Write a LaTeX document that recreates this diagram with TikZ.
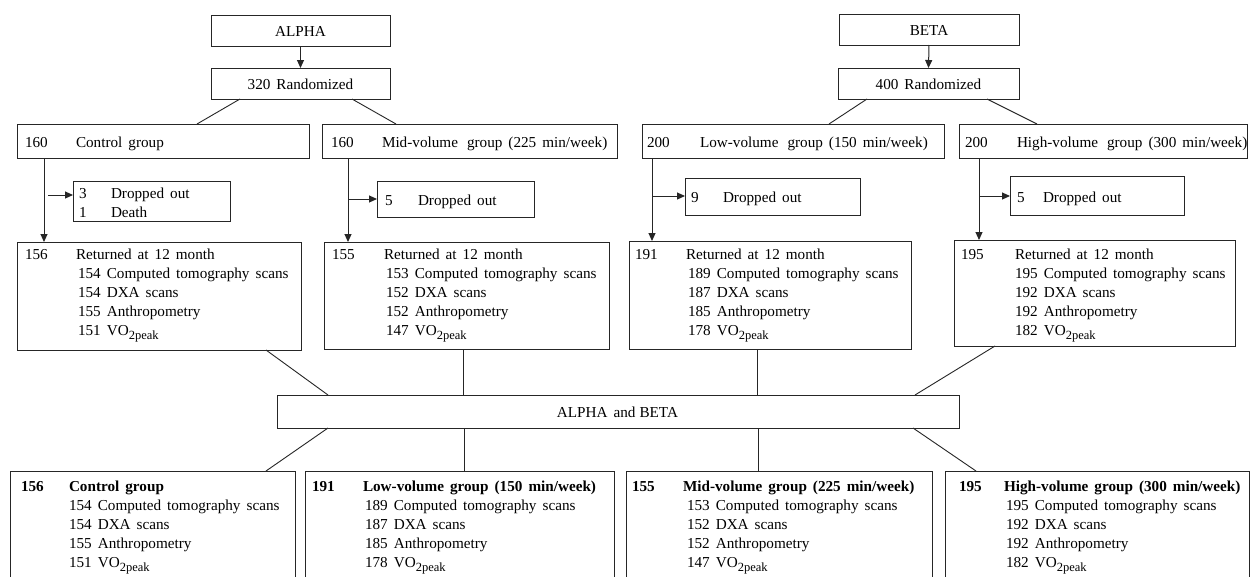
\documentclass[tikz,border=0pt]{standalone}
\usepackage{fontspec}
\setmainfont{Liberation Serif}
\usetikzlibrary{arrows.meta}
\newcommand\vopk{VO\raisebox{-4pt}{\fontsize{12.5}{12.5}\selectfont 2peak}}
\newcommand\myfnt{\fontsize{15.2}{19.2}\selectfont\spaceskip=6pt plus 1pt minus 1pt\relax}
\begin{document}
\begin{tikzpicture}[x=1pt,y=-1pt,
  font=\myfnt,
  box/.style={draw=black!85, line width=1pt, inner sep=0pt, outer sep=0pt, anchor=north west},
  txt/.style={inner sep=0pt, outer sep=0pt, anchor=base west},
  ctr/.style={inner sep=0pt, outer sep=0pt, anchor=base},
  arr/.style={draw=black!85, line width=1pt, -{Triangle[length=8pt,width=7pt]}},
  ln/.style={draw=black!85, line width=0.9pt}]
\fill[white] (0,0) rectangle (1250,576);
\useasboundingbox (0,0) rectangle (1250,576);
\clip (0,0) rectangle (1250,576);
% ---------- boxes ----------
\node[box, minimum width=179pt, minimum height=31pt] (alpha) at (211,15) {};
\node[box, minimum width=179pt, minimum height=31pt] (r1) at (211,68) {};
\node[box, minimum width=180pt, minimum height=31pt] (beta) at (839,14) {};
\node[box, minimum width=181pt, minimum height=31pt] (r2) at (838,68) {};
\node[box, minimum width=292pt, minimum height=34pt] (cg) at (17,124) {};
\node[box, minimum width=295pt, minimum height=34pt] (mg) at (322,124) {};
\node[box, minimum width=302pt, minimum height=34pt] (lg) at (642,124) {};
\node[box, minimum width=288pt, minimum height=34pt] (hg) at (959,124) {};
\node[box, minimum width=157pt, minimum height=40pt] (cd) at (73,181) {};
\node[box, minimum width=157pt, minimum height=36pt] (md) at (377,181) {};
\node[box, minimum width=175pt, minimum height=37pt] (ld) at (685,178) {};
\node[box, minimum width=174pt, minimum height=39pt] (hd) at (1010,176) {};
\node[box, minimum width=284pt, minimum height=108pt] (cr) at (17,242) {};
\node[box, minimum width=285pt, minimum height=107pt] (mr) at (324,242) {};
\node[box, minimum width=282pt, minimum height=108pt] (lr) at (629,241) {};
\node[box, minimum width=281pt, minimum height=106pt] (hr) at (954,240) {};
\node[box, minimum width=682pt, minimum height=33pt] (ab) at (277,395) {};
\node[box, minimum width=285pt, minimum height=140pt] (b1) at (10,471) {};
\node[box, minimum width=309pt, minimum height=140pt] (b2) at (305,471) {};
\node[box, minimum width=306pt, minimum height=140pt] (b3) at (626,471) {};
\node[box, minimum width=304pt, minimum height=140pt] (b4) at (945,471) {};
% ---------- texts ----------
\node[ctr] (alphat) at (300.5,36) {ALPHA};
\node[ctr] (r1t) at (300.5,89) {320 Randomized};
\node[ctr] (betat) at (929,35) {BETA};
\node[ctr] (r2t) at (928.5,89) {400 Randomized};
\node[txt] (cgn) at (25,147) {160};
\node[txt] (cgl) at (76,147) {Control group};
\node[txt] (mgn) at (331,147) {160};
\node[txt] (mgl) at (382,147) {Mid-volume\hspace{9pt}group (225 min/week)};
\node[txt] (lgn) at (647,147) {200};
\node[txt] (lgl) at (700,147) {Low-volume\hspace{9pt}group (150 min/week)};
\node[txt] (hgn) at (965,147) {200};
\node[txt] (hgl) at (1017,147) {High-volume\hspace{9pt}group (300 min/week)};
\node[txt] (cdn1) at (79,198) {3};
\node[txt] (cdl1) at (111,198) {Dropped out};
\node[txt] (cdn2) at (79,217) {1};
\node[txt] (cdl2) at (111,217) {Death};
\node[txt] (mdn) at (385,205) {5};
\node[txt] (mdl) at (418,205) {Dropped out};
\node[txt] (ldn) at (691,202) {9};
\node[txt] (ldl) at (723,202) {Dropped out};
\node[txt] (hdn) at (1017,202) {5};
\node[txt] (hdl) at (1043,202) {Dropped out};
\node[txt] (crn) at (25,259) {156};
\node[txt] (crl) at (76,259) {\begin{tabular}[t]{@{}l@{}}Returned at 12 month\\
 \hspace{2pt}154 Computed tomography scans\\ \hspace{2pt}154 DXA scans\\
 \hspace{2pt}155 Anthropometry\\ \hspace{2pt}151 \vopk\end{tabular}};
\node[txt] (mrn) at (332,259) {155};
\node[txt] (mrl) at (384,259) {\begin{tabular}[t]{@{}l@{}}Returned at 12 month\\
 \hspace{2pt}153 Computed tomography scans\\ \hspace{2pt}152 DXA scans\\
 \hspace{2pt}152 Anthropometry\\ \hspace{2pt}147 \vopk\end{tabular}};
\node[txt] (lrn) at (635,259) {191};
\node[txt] (lrl) at (686,259) {\begin{tabular}[t]{@{}l@{}}Returned at 12 month\\
 \hspace{2pt}189 Computed tomography scans\\ \hspace{2pt}187 DXA scans\\
 \hspace{2pt}185 Anthropometry\\ \hspace{2pt}178 \vopk\end{tabular}};
\node[txt] (hrn) at (961,259) {195};
\node[txt] (hrl) at (1015,259) {\begin{tabular}[t]{@{}l@{}}Returned at 12 month\\
 195 Computed tomography scans\\ 192 DXA scans\\
 192 Anthropometry\\ 182 \vopk\end{tabular}};
\node[ctr] (abt) at (617.5,417) {ALPHA\hspace{6pt}and\hspace{4pt}BETA};
\node[txt] (b1n) at (21,491) {\textbf{156}};
\node[txt] (b1l) at (69,491) {\begin{tabular}[t]{@{}l@{}}\textbf{Control group}\\
 154 Computed tomography scans\\ 154 DXA scans\\
 155 Anthropometry\\ 151 \vopk\end{tabular}};
\node[txt] (b2n) at (312,491) {\textbf{191}};
\node[txt] (b2l) at (363,491) {\begin{tabular}[t]{@{}l@{}}\textbf{Low-volume group (150 min/week)}\\
 \hspace{2pt}189 Computed tomography scans\\ \hspace{2pt}187 DXA scans\\
 \hspace{2pt}185 Anthropometry\\ \hspace{2pt}178 \vopk\end{tabular}};
\node[txt] (b3n) at (632,491) {\textbf{155}};
\node[txt] (b3l) at (683,491) {\begin{tabular}[t]{@{}l@{}}\textbf{Mid-volume group (225 min/week)}\\
 \hspace{4pt}153 Computed tomography scans\\ \hspace{4pt}152 DXA scans\\
 \hspace{4pt}152 Anthropometry\\ \hspace{4pt}147 \vopk\end{tabular}};
\node[txt] (b4n) at (959,491) {\textbf{195}};
\node[txt] (b4l) at (1004,491) {\begin{tabular}[t]{@{}l@{}}\textbf{High-volume group (300 min/week)}\\
 \hspace{2pt}195 Computed tomography scans\\ \hspace{2pt}192 DXA scans\\
 \hspace{2pt}192 Anthropometry\\ \hspace{2pt}182 \vopk\end{tabular}};
% ---------- connectors ----------
\draw[arr] (alpha.south) -- (r1.north);
\draw[arr] (beta.south) -- (r2.north);
\draw[ln] ([xshift=29pt]r1.south west) -- ([xshift=180pt]cg.north west);
\draw[ln] ([xshift=141pt]r1.south west) -- ([xshift=74pt]mg.north west);
\draw[ln] ([xshift=29pt]r2.south west) -- ([xshift=187pt]lg.north west);
\draw[ln] ([xshift=149pt]r2.south west) -- ([xshift=78pt]hg.north west);
\draw[arr] ([xshift=27pt]cg.south west) -- ([xshift=27pt]cr.north west);
\draw[arr] ([xshift=26pt]mg.south west) -- ([xshift=24pt]mr.north west);
\draw[arr] ([xshift=10pt]lg.south west) -- ([xshift=23pt]lr.north west);
\draw[arr] ([xshift=20pt]hg.south west) -- ([xshift=25pt]hr.north west);
\coordinate (ca) at (48,195);
\coordinate (ma) at (348,199);
\coordinate (la) at (652,196);
\coordinate (ha) at (979,196);
\draw[arr] (ca) -- (ca -| cd.west);
\draw[arr] (ma) -- (ma -| md.west);
\draw[arr] (la) -- (la -| ld.west);
\draw[arr] (ha) -- (ha -| hd.west);
\draw[ln] ([xshift=249pt]cr.south west) -- ([xshift=51pt]ab.north west);
\draw[ln] ([xshift=139pt]mr.south west) -- ([xshift=186pt]ab.north west);
\draw[ln] ([xshift=128pt]lr.south west) -- ([xshift=480pt]ab.north west);
\draw[ln] ([xshift=41pt]hr.south west) -- ([xshift=638pt]ab.north west);
\draw[ln] ([xshift=51pt]ab.south west) -- ([xshift=256pt]b1.north west);
\draw[ln] ([xshift=187pt]ab.south west) -- ([xshift=159pt]b2.north west);
\draw[ln] ([xshift=481pt]ab.south west) -- ([xshift=132pt]b3.north west);
\draw[ln] ([xshift=636pt]ab.south west) -- ([xshift=31pt]b4.north west);
\end{tikzpicture}
\end{document}
